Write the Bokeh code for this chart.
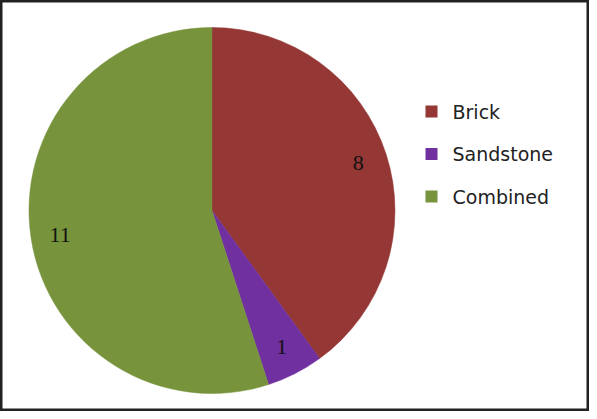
import numpy as np
from bokeh.plotting import figure
from bokeh.models import ColumnDataSource, Range1d
from bokeh.embed import file_html
from bokeh.resources import INLINE
from bokeh.core.properties import value

# ---- data ----
categories = ["Brick", "Sandstone", "Combined"]
counts = [8, 1, 11]
colors = ["#953735", "#7030A0", "#77933C"]

# ---- layout (pixel-like data space) ----
W, H = 589, 411
CX, CY, R = 211.5, 201.0, 183.0
LABEL_R = 0.84 * R
LEG_X, LEG_TX, LEG_Y0, LEG_DY = 431.0, 452.0, 300.0, 42.5

vals = np.array(counts, dtype=float)
frac = vals / vals.sum()
cum = np.cumsum(frac)
prev = cum - frac
start = np.pi / 2 - 2 * np.pi * prev
end = np.pi / 2 - 2 * np.pi * cum
mid = (start + end) / 2

src = ColumnDataSource(dict(
    cat=categories,
    val=[str(v) for v in counts],
    color=colors,
    start=start,
    end=end,
    lx=CX + LABEL_R * np.cos(mid),
    ly=CY + LABEL_R * np.sin(mid),
    gx=[LEG_X] * len(categories),
    gtx=[LEG_TX] * len(categories),
    gy=[LEG_Y0 - i * LEG_DY for i in range(len(categories))],
))

p = figure(width=W, height=H, x_range=Range1d(0, W), y_range=Range1d(0, H),
           output_backend="svg", toolbar_location=None, min_border=0)
p.axis.visible = False
p.grid.visible = False
p.outline_line_color = "#222222"
p.outline_line_width = 4
p.background_fill_color = "white"
p.border_fill_color = "white"

p.wedge(x=CX, y=CY, radius=R, start_angle="start", end_angle="end",
        direction="clock", fill_color="color", line_color="color",
        line_width=0.5, source=src)

p.text(x="lx", y="ly", text="val", source=src, text_align="center",
       text_baseline="middle", text_font=value("Liberation Serif"),
       text_font_size="22px", text_color="#111111")

p.scatter(x="gx", y="gy", marker="square", size=12, fill_color="color",
          line_color=None, source=src)
p.text(x="gtx", y="gy", text="cat", source=src, text_align="left",
       text_baseline="middle", text_font=value("DejaVu Sans"),
       text_font_size="19px", text_color="#222222")

open("out.html", "w").write(file_html(p, INLINE))
